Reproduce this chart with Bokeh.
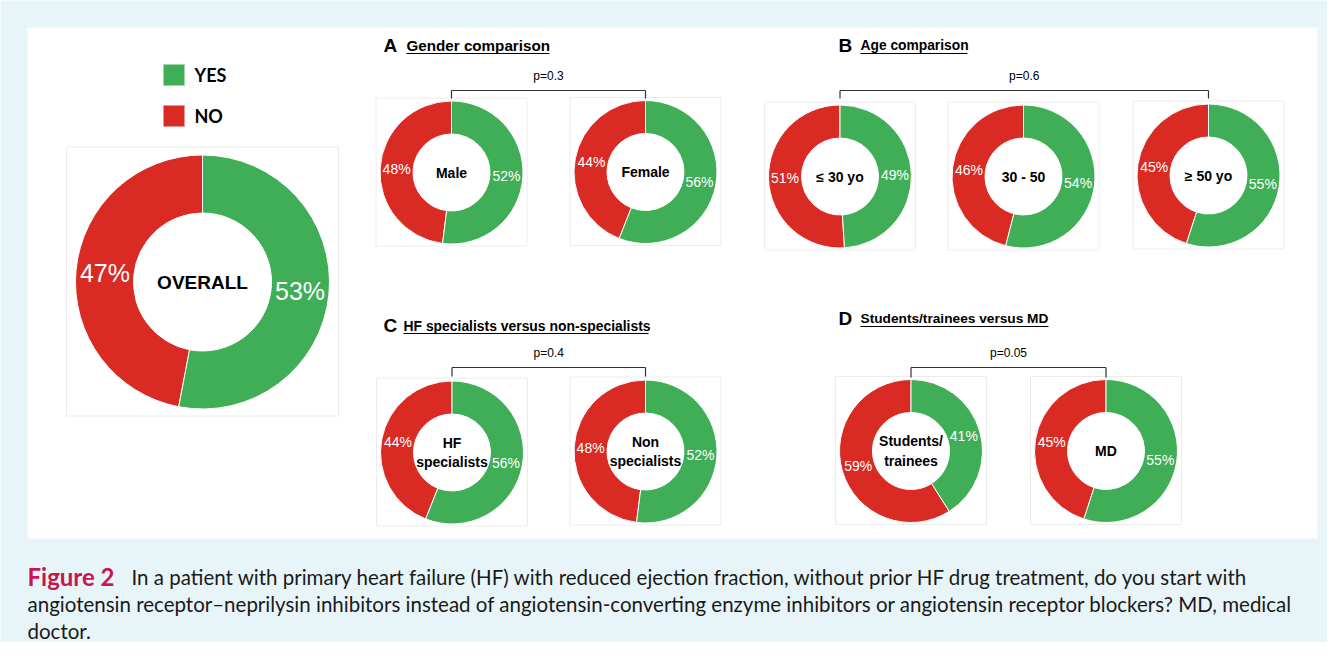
import math
from bokeh.plotting import figure
from bokeh.models import Range1d, ColumnDataSource
from bokeh.core.properties import value
from bokeh.embed import file_html
from bokeh.resources import INLINE

# ---------------- data ----------------
groups = ["OVERALL", "Male", "Female", "≤ 30 yo", "30 - 50", "≥ 50 yo",
          "HF\nspecialists", "Non\nspecialists", "Students/\ntrainees", "MD"]
yes_pct = [53, 52, 56, 49, 54, 55, 56, 52, 41, 55]
no_pct = [47, 48, 44, 51, 46, 45, 44, 48, 59, 45]
legend_labels = ["YES", "NO"]
panel_letters = ["A", "B", "C", "D"]
panel_titles = ["Gender comparison", "Age comparison",
                "HF specialists versus non-specialists", "Students/trainees versus MD"]
p_values = ["p=0.3", "p=0.6", "p=0.4", "p=0.05"]
caption_lead = "Figure 2"
caption_lines = [
    "In a patient with primary heart failure (HF) with reduced ejection fraction, without prior HF drug treatment, do you start with",
    "angiotensin receptor\u2013neprilysin inhibitors instead of angiotensin-converting enzyme inhibitors or angiotensin receptor blockers? MD, medical",
    "doctor.",
]

# ---------------- layout (reference pixel coords, y down) ----------------
H = 658
def Y(y):
    return H - y

GREEN = "#3fae57"
RED = "#d92a24"
BG = "#e8f5f8"
FONT = "Liberation Sans"

centers = [(202, 281.5), (451, 172), (645, 171.5), (839.5, 176), (1023, 176), (1208, 175),
           (451.5, 452), (645, 451), (910.5, 450.5), (1105.5, 450.5)]
outer_r = [127] + [71.5] * 9
inner_r = [69] + [38.5] * 9
pct_size = ["25px"] + ["14px"] * 9
center_size = ["19px"] + ["14px"] * 9

p = figure(width=1327, height=642, x_range=Range1d(0, 1327), y_range=Range1d(H - 642, H),
           output_backend="svg", toolbar_location=None, min_border=0)
p.axis.visible = False
p.grid.visible = False
p.outline_line_color = None
p.background_fill_color = BG
p.border_fill_color = BG

# white panel
p.quad(left=[27], right=[1317], top=[Y(27)], bottom=[Y(538)], fill_color="white", line_color=None)

# faint frames behind donuts
fl, fr, ft, fb = [], [], [], []
for (cx, cy), r in zip(centers, outer_r):
    pad = 9 if r > 100 else 4
    fl.append(cx - r - pad); fr.append(cx + r + pad)
    ft.append(Y(cy - r - pad + 1)); fb.append(Y(cy + r + pad - 2))
p.quad(left=fl, right=fr, top=ft, bottom=fb, fill_color=None, line_color="#ececec", line_width=1)

# wedges
wx, wy, wr_in, wr_out, ws, we, wc = [], [], [], [], [], [], []
lx, ly, lt, ls = [], [], [], []
for i, g in enumerate(groups):
    cx, cy = centers[i]
    n = no_pct[i] / 100.0
    yv = yes_pct[i] / 100.0
    a0 = math.pi / 2
    a1 = a0 + 2 * math.pi * n
    a2 = a0 + 2 * math.pi
    for (s, e, c) in [(a0, a1, RED), (a1, a2, GREEN)]:
        wx.append(cx); wy.append(Y(cy)); wr_in.append(inner_r[i]); wr_out.append(outer_r[i])
        ws.append(s); we.append(e); wc.append(c)
    rm = (outer_r[i] + inner_r[i]) / 2
    for mid, txt in [(a0 + math.pi * n, f"{no_pct[i]}%"), (a1 + math.pi * yv, f"{yes_pct[i]}%")]:
        lx.append(cx + rm * math.cos(mid)); ly.append(Y(cy) + rm * math.sin(mid))
        lt.append(txt); ls.append(pct_size[i])

wsrc = ColumnDataSource(dict(x=wx, y=wy, ri=wr_in, ro=wr_out, s=ws, e=we, c=wc))
p.annular_wedge(x="x", y="y", inner_radius="ri", outer_radius="ro", start_angle="s", end_angle="e",
                fill_color="c", line_color="white", line_width=1, source=wsrc)

lsrc = ColumnDataSource(dict(x=lx, y=ly, t=lt, s=ls))
p.text(x="x", y="y", text="t", text_font_size="s", text_color="white", text_font=value(FONT),
       text_align="center", text_baseline="middle", source=lsrc)

# center labels
cx_ = [c[0] for c in centers]
cy_ = [Y(c[1]) for c in centers]
csrc = ColumnDataSource(dict(x=cx_, y=cy_, t=groups, s=center_size))
p.text(x="x", y="y", text="t", text_font_size="s", text_color="black", text_font=value(FONT),
       text_font_style="bold", text_align="center", text_baseline="middle", text_line_height=1.22,
       source=csrc)

# legend
leg_y = [74.5, 115.5]
p.rect(x=[173.5, 173.5], y=[Y(v) for v in leg_y], width=21, height=21,
       fill_color=[GREEN, RED], line_color=["#9fd6ab", "#ec9592"], line_width=1)
p.text(x=[194, 194], y=[Y(v) + 0.5 for v in leg_y], text=legend_labels, text_font=value("Lato"),
       text_font_style="bold", text_font_size="18px", text_color="black", text_baseline="middle")

# panel titles
letter_pos = [(383, 45), (838, 45), (383, 325), (838, 318)]
title_pos = [(406, 45), (860, 45), (403, 325), (860, 318)]
title_size = ["15.2px", "13.8px", "13.9px", "13.7px"]
underline_end = [549, 967, 648, 1048]
p.text(x=[v[0] for v in letter_pos], y=[Y(v[1]) for v in letter_pos], text=panel_letters,
       text_font=value(FONT), text_font_style="bold", text_font_size="19px", text_color="black",
       text_baseline="middle")
tsrc = ColumnDataSource(dict(x=[v[0] for v in title_pos], y=[Y(v[1]) for v in title_pos],
                             t=panel_titles, s=title_size))
p.text(x="x", y="y", text="t", text_font=value(FONT), text_font_style="bold", text_font_size="s",
       text_color="black", text_baseline="middle", source=tsrc)
p.segment(x0=[v[0] for v in title_pos], y0=[Y(v[1] + 8) for v in title_pos],
          x1=underline_end, y1=[Y(v[1] + 8) for v in title_pos], line_color="black", line_width=1.2)

# brackets with p-values
brackets = [(1, 2, 90, 98), (3, 5, 90, 98), (6, 7, 367, 376), (8, 9, 367, 377)]
bx0, by0, bx1, by1, px, py = [], [], [], [], [], []
for (i0, i1, yt, yb) in brackets:
    xa, xb = centers[i0][0], centers[i1][0]
    bx0 += [xa, xa, xb]; by0 += [Y(yt), Y(yt), Y(yt)]
    bx1 += [xb, xa, xb]; by1 += [Y(yt), Y(yb), Y(yb)]
    px.append((xa + xb) / 2); py.append(Y(yt - 15))
p.segment(x0=bx0, y0=by0, x1=bx1, y1=by1, line_color="#333333", line_width=1.2)
p.text(x=px, y=py, text=p_values, text_font=value(FONT), text_font_size="12px", text_color="black",
       text_align="center", text_baseline="middle")

# caption
p.text(x=[27], y=[Y(576)], text=[caption_lead], text_font=value("Lato"), text_font_style="bold",
       text_font_size="24px", text_color="#c8164d", text_baseline="middle")
p.text(x=[131, 27, 27], y=[Y(576), Y(603), Y(630)], text=caption_lines, text_font=value("Lato"),
       text_font_size="20.5px", text_color="#1a1a1a", text_baseline="middle")

open("out.html", "w").write(file_html(p, INLINE))
